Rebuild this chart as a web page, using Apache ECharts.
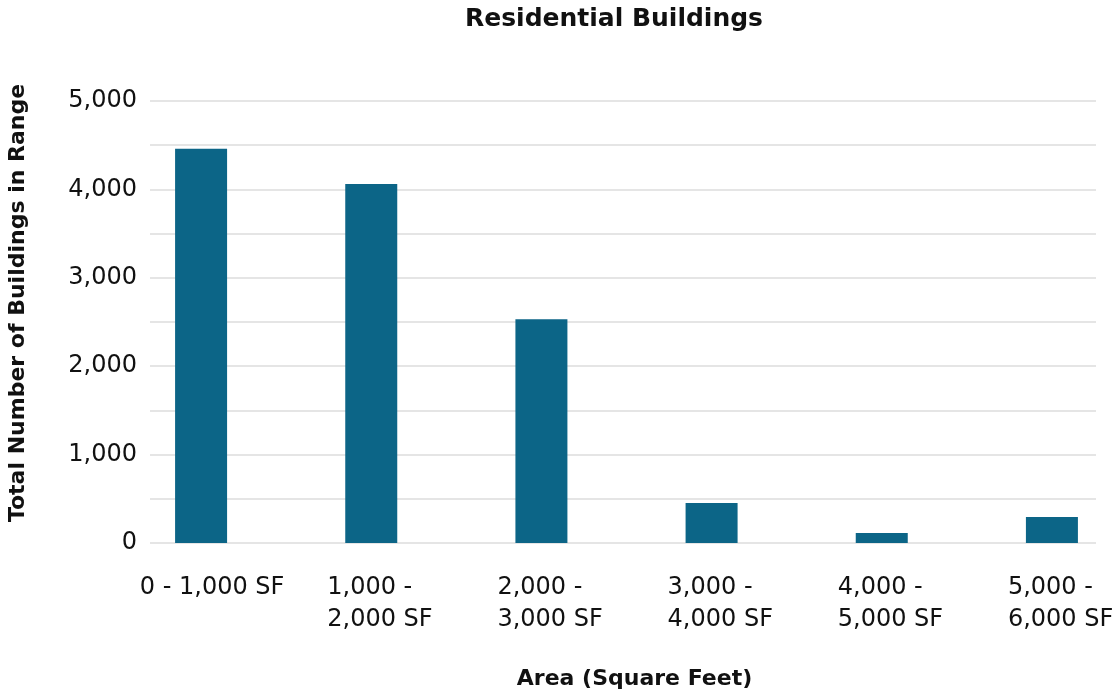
<!DOCTYPE html>
<html>
<head>
<meta charset="utf-8">
<script src="https://cdn.jsdelivr.net/npm/echarts@6/dist/echarts.min.js"></script>
<style>
  html, body { margin: 0; padding: 0; background: #fff; }
  #main { width: 1119px; height: 692px; }
</style>
</head>
<body>
<div id="main"></div>
<script>
// data
const categories = ['0 - 1,000 SF', '1,000 -\n2,000 SF', '2,000 -\n3,000 SF', '3,000 -\n4,000 SF', '4,000 -\n5,000 SF', '5,000 -\n6,000 SF']
const buildings = [4460, 4060, 2530, 452, 113, 294]
const yTicks = [0, 1000, 2000, 3000, 4000, 5000]

const font = 'DejaVu Sans'
const barColor = '#0c6587'

const chart = echarts.init(document.getElementById('main'))

const option = {
  animation: false,
  textStyle: { fontFamily: font },
  title: {
    text: 'Residential Buildings',
    left: 460,
    top: 2,
    textStyle: { fontFamily: font, fontSize: 25, fontWeight: 'bold', color: '#111' }
  },
  grid: [
    { left: 150, right: 23, top: 101, bottom: 149, outerBoundsMode: 'none' },
    { left: 116, width: 1021, top: 101, bottom: 149, outerBoundsMode: 'none' }
  ],
  xAxis: [
    { gridIndex: 0, type: 'category', data: categories, show: false },
    {
      gridIndex: 1,
      type: 'category',
      data: categories,
      axisLine: { show: false },
      axisTick: { show: false },
      axisLabel: {
        interval: 0,
        margin: 29,
        align: 'center',
        hideOverlap: false,
        formatter: function (v, i) {
          if (i === 0) return '{a|' + v + '}'
          return v.split('\n').map(s => '{b|' + s + '}').join('\n')
        },
        rich: {
          a: { fontFamily: font, fontSize: 24, color: '#111', padding: [0, 0, 0, 22], lineHeight: 32 },
          b: { fontFamily: font, fontSize: 24, color: '#111', width: 108, align: 'left', padding: [0, 0, 0, 20], lineHeight: 32 }
        }
      },
      name: 'Area (Square Feet)',
      nameLocation: 'middle',
      nameGap: 125,
      nameTextStyle: { fontFamily: font, fontSize: 22, fontWeight: 'bold', color: '#111', padding: [0, 0, 0, 16] }
    }
  ],
  yAxis: [
    {
      gridIndex: 0,
      type: 'value',
      min: 0,
      max: 5000,
      interval: 500,
      axisLine: { show: false },
      axisTick: { show: false },
      axisLabel: {
        margin: 13,
        fontFamily: font,
        fontSize: 24,
        color: '#111',
        formatter: v => yTicks.includes(v) ? v.toLocaleString('en-US') : ''
      },
      splitLine: { lineStyle: { color: '#dcdcdc', width: 1.5 } },
      name: 'Total Number of Buildings in Range',
      nameLocation: 'middle',
      nameGap: 121,
      nameTextStyle: { fontFamily: font, fontSize: 22, fontWeight: 'bold', color: '#111', padding: [0, 0, 0, 38] }
    },
    { gridIndex: 1, type: 'value', min: 0, max: 5000, show: false }
  ],
  series: [
    {
      name: 'Buildings',
      type: 'bar',
      xAxisIndex: 1,
      yAxisIndex: 1,
      barWidth: 52,
      data: buildings,
      itemStyle: { color: barColor }
    }
  ]
}

chart.setOption(option)
</script>
</body>
</html>
